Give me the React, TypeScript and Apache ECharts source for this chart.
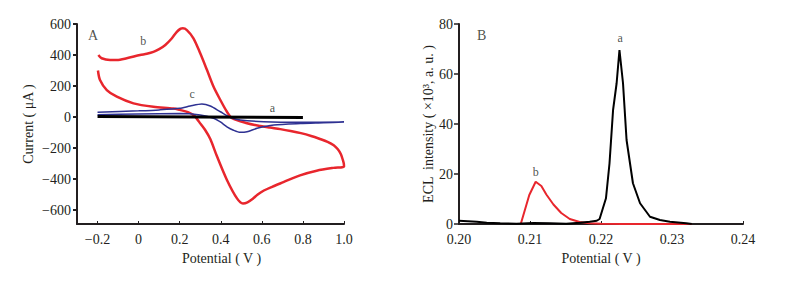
import React, { useEffect, useRef } from "react";
import * as echarts from "echarts";

// Panel A: cyclic voltammograms
const cvTicksX = [-0.2, 0, 0.2, 0.4, 0.6, 0.8, 1.0];
const cvTicksY = [-600, -400, -200, 0, 200, 400, 600];

// curve a (black)
const aPotential = [-0.2, 0.3, 0.8];
const aCurrent = [3, 0, -3];

// curve b (red)
const bPotential = [
  -0.198, -0.188, -0.155, -0.106, -0.025, 0.072, 0.17, 0.2, 0.24, 0.267, 0.284, 0.3, 0.324, 0.349, 0.381, 0.43, 0.479,
  0.508, 0.53, 0.555, 0.58, 0.61, 0.65, 0.705, 0.786, 0.867, 0.948, 1.0,
  0.999, 0.995, 0.985, 0.97, 0.95, 0.92, 0.88, 0.84, 0.79, 0.74, 0.69, 0.64, 0.593, 0.528, 0.455, 0.43, 0.398, 0.365,
  0.333, 0.3, 0.267, 0.235, 0.215, 0.205, 0.185, 0.16, 0.13, 0.1, 0.072, 0.04, 0.007, -0.058, -0.106, -0.139, -0.18,
  -0.196,
];
const bCurrent = [
  300, 239, 174, 131, 88, 66, 55, 46, 32, 13, -12, -41, -84, -142, -252, -406, -525,
  -557, -550, -528, -500, -474, -450, -420, -376, -346, -328, -320,
  -300, -280, -240, -208, -182, -160, -140, -122, -104, -90, -78, -68, -58, -40, -8, 34, 110, 195,
  303, 411, 508, 561, 572, 570, 548, 505, 465, 438, 420, 408, 400, 379, 368, 368, 379,
  400,
];

// curve c (blue)
const cPotential = [
  -0.2, 0, 0.1, 0.2, 0.251, 0.308, 0.349, 0.398, 0.446, 0.495, 0.609, 0.788, 1.0,
  0.9, 0.788, 0.658, 0.577, 0.528, 0.495, 0.462, 0.43, 0.398, 0.365, 0.3, 0.2, 0, -0.2,
];
const cCurrent = [
  30, 40, 46, 56, 71, 84, 71, 34, -2, -19, -30, -34, -32,
  -37, -42, -52, -73, -95, -99, -85, -63, -32, -8, 13, 22, 20, 15,
];

// Panel B: ECL intensity
const eclAPotential = [
  0.2, 0.2025, 0.2039, 0.2058, 0.2081, 0.2105, 0.2128, 0.2151, 0.217, 0.2184, 0.2194, 0.2198, 0.2207, 0.2212,
  0.2217, 0.2222, 0.2226, 0.2231, 0.2236, 0.2245, 0.2255, 0.2269, 0.2283, 0.2297, 0.232, 0.2328,
];
const eclAIntensity = [
  1.3, 0.9, 0.5, 0.3, 0.1, 0.4, 0.3, 0.1, 0.5, 0.9, 1.3, 2, 10.3, 24.3,
  45.6, 56.3, 69.6, 56.3, 33.6, 16.3, 8.3, 2.9, 1.6, 0.9, 0.3, 0,
];
const eclBPotential = [0.2087, 0.2099, 0.2108, 0.2116, 0.2123, 0.2133, 0.2144, 0.2156, 0.217, 0.2184, 0.22, 0.223, 0.2328];
const eclBIntensity = [0, 11.6, 16.9, 15.2, 11.8, 7.8, 4.4, 2.0, 0.8, 0.3, 0.1, 0, 0];

// annotations
const cvNotes: [number, number, string, number][] = [
  [-0.222, 529, "A", 14],
  [0.022, 490, "b", 12],
  [0.261, 148, "c", 12],
  [0.651, 58, "a", 12],
];
const eclNotes: [number, number, string, number][] = [
  [0.2032, 75.6, "B", 14],
  [0.2227, 74.5, "a", 12],
  [0.2108, 21, "b", 12],
];

const zip = (xs: number[], ys: number[]) => xs.map((x, i) => [x, ys[i]]);
const minus = (s: string) => s.replace("-", "\u2212");
const FONT = "Liberation Serif";
const INK = "#231f20";
const RED = "#e8262d";
const BLUE = "#2e3192";

export default function App() {
  const ref = useRef<HTMLDivElement>(null);
  useEffect(() => {
    if (!ref.current) return;
    const chart = echarts.init(ref.current, undefined, { renderer: "svg" });
    const axisLine = { show: true, onZero: false, lineStyle: { color: INK, width: 2 } };
    const labelStyle = { color: INK, fontSize: 14, fontFamily: FONT };
    const nameStyle = { color: INK, fontSize: 14, fontFamily: FONT };
    const noteSeries = (notes: [number, number, string, number][], idx: number) => ({
      type: "scatter",
      xAxisIndex: idx,
      yAxisIndex: idx,
      symbolSize: 0,
      silent: true,
      z: 10,
      data: notes.map((n) => ({ value: [n[0], n[1]], name: n[2], label: { fontSize: n[3] } })),
      label: {
        show: true,
        position: "inside",
        formatter: (p: any) => p.name,
        color: INK,
        fontFamily: FONT,
      },
    });
    chart.setOption({
      animation: false,
      textStyle: { fontFamily: FONT },
      grid: [
        { left: 77, top: 24, width: 267, height: 200 },
        { left: 459, top: 24, width: 284, height: 200 },
      ],
      xAxis: [
        {
          type: "value",
          gridIndex: 0,
          min: -0.3,
          max: 1.0,
          axisLine,
          splitLine: { show: false },
          axisTick: { show: true, inside: true, length: 3, customValues: cvTicksX, lineStyle: { color: INK, width: 1 } },
          axisLabel: {
            ...labelStyle,
            margin: 8,
            customValues: cvTicksX,
            formatter: (v: number) => (v === 0 ? "0" : minus(v.toFixed(1))),
          },
          name: "Potential ( V )",
          nameLocation: "middle",
          nameGap: 27,
          nameTextStyle: { ...nameStyle, padding: [0, 0, 0, 22] },
        },
        {
          type: "value",
          gridIndex: 1,
          min: 0.2,
          max: 0.24,
          interval: 0.01,
          axisLine,
          splitLine: { show: false },
          axisTick: { show: true, inside: true, length: 3, lineStyle: { color: INK, width: 1 } },
          axisLabel: { ...labelStyle, margin: 8, formatter: (v: number) => v.toFixed(2) },
          name: "Potential ( V )",
          nameLocation: "middle",
          nameGap: 27,
          nameTextStyle: nameStyle,
        },
      ],
      yAxis: [
        {
          type: "value",
          gridIndex: 0,
          min: -690,
          max: 600,
          axisLine,
          splitLine: { show: false },
          axisTick: { show: true, inside: false, length: 4, customValues: cvTicksY, lineStyle: { color: INK, width: 2 } },
          axisLabel: { ...labelStyle, margin: 6, customValues: cvTicksY, formatter: (v: number) => minus(String(v)) },
          name: "Current ( \u03bcA )",
          nameLocation: "middle",
          nameGap: 42,
          nameTextStyle: nameStyle,
        },
        {
          type: "value",
          gridIndex: 1,
          min: 0,
          max: 80,
          interval: 20,
          axisLine,
          splitLine: { show: false },
          axisTick: { show: true, inside: false, length: 5, lineStyle: { color: INK, width: 1.5 } },
          axisLabel: { ...labelStyle, margin: 6 },
          name: "ECL  intensity ( \u00d710\u00b3, a. u. )",
          nameLocation: "middle",
          nameGap: 24,
          nameTextStyle: nameStyle,
        },
      ],
      series: [
        {
          type: "line",
          name: "b",
          xAxisIndex: 0,
          yAxisIndex: 0,
          data: zip(bPotential, bCurrent),
          showSymbol: false,
          smooth: 0.3,
          lineStyle: { color: RED, width: 2.5 },
        },
        {
          type: "line",
          name: "c",
          xAxisIndex: 0,
          yAxisIndex: 0,
          data: zip(cPotential, cCurrent),
          showSymbol: false,
          smooth: 0.25,
          lineStyle: { color: BLUE, width: 1.5 },
        },
        {
          type: "line",
          name: "a",
          xAxisIndex: 0,
          yAxisIndex: 0,
          data: zip(aPotential, aCurrent),
          showSymbol: false,
          lineStyle: { color: "#000", width: 3 },
        },
        {
          type: "line",
          name: "ECL b",
          xAxisIndex: 1,
          yAxisIndex: 1,
          data: zip(eclBPotential, eclBIntensity),
          showSymbol: false,
          lineStyle: { color: RED, width: 2 },
        },
        {
          type: "line",
          name: "ECL a",
          xAxisIndex: 1,
          yAxisIndex: 1,
          data: zip(eclAPotential, eclAIntensity),
          showSymbol: false,
          lineStyle: { color: "#000", width: 2 },
        },
        noteSeries(cvNotes, 0),
        noteSeries(eclNotes, 1),
      ],
    });
    return () => chart.dispose();
  }, []);
  return (
    <div
      ref={ref}
      style={{ position: "fixed", left: 0, top: 0, width: 803, height: 283, background: "#fff" }}
    />
  );
}
